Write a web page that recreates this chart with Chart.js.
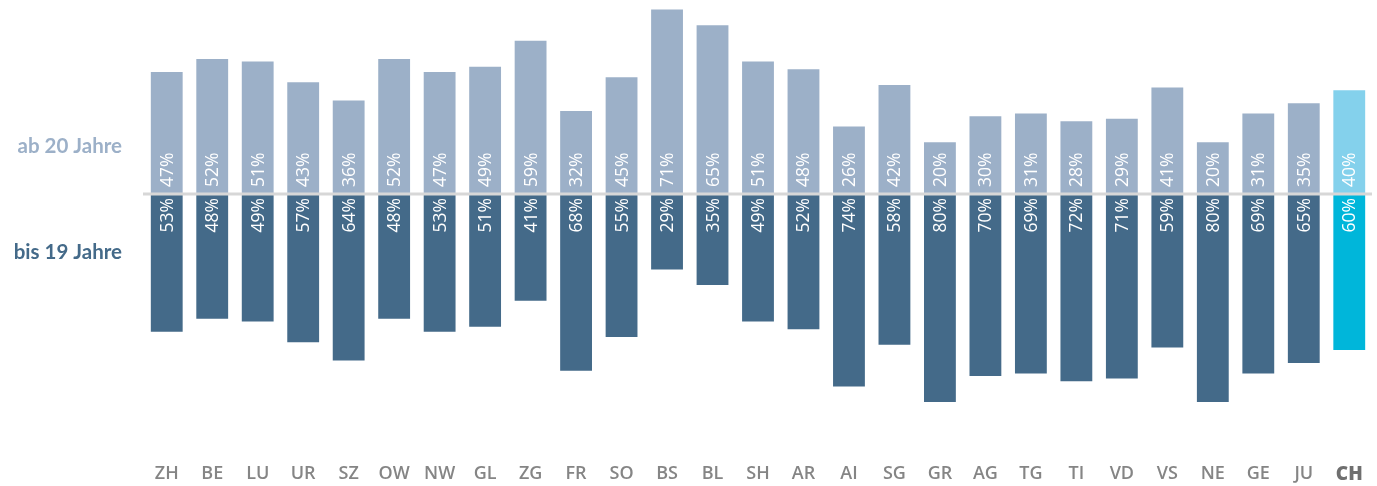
<!DOCTYPE html>
<html>
<head>
<meta charset="utf-8">
<script src="https://cdn.jsdelivr.net/npm/chart.js@4"></script>
<style>
  body { margin: 0; background: #fff; }
  #wrap { width: 1377px; height: 486px; position: relative; }
</style>
</head>
<body>
<div id="wrap"><canvas id="chart"></canvas></div>
<script>
// Kantone
var kantone = ['ZH','BE','LU','UR','SZ','OW','NW','GL','ZG','FR','SO','BS','BL','SH','AR','AI','SG','GR','AG','TG','TI','VD','VS','NE','GE','JU','CH'];
// Anteil ab 20 Jahre (oben)
var ab20 = [47,52,51,43,36,52,47,49,59,32,45,71,65,51,48,26,42,20,30,31,28,29,41,20,31,35,40];
// Anteil bis 19 Jahre (unten)
var bis19 = [53,48,49,57,64,48,53,51,41,68,55,29,35,49,52,74,58,80,70,69,72,71,59,80,69,65,60];
var gruppen = ['ab 20 Jahre', 'bis 19 Jahre'];

var isCH = function(i) { return kantone[i] === 'CH'; };

var oberFarben = kantone.map(function(k, i) { return isCH(i) ? '#84d1ec' : '#9cb0c8'; });
var unterFarben = kantone.map(function(k, i) { return isCH(i) ? '#00b6da' : '#446a89'; });

// keine automatische Randabstände der Achsen
function ohnePadding(scale) {
    scale.paddingTop = 0;
    scale.paddingBottom = 0;
    scale.paddingLeft = 0;
    scale.paddingRight = 0;
}

// Prozentwerte in den Balken + Nulllinie
var labelPlugin = {
    id: 'balkenLabels',
    afterDatasetsDraw: function(chart) {
        var ctx = chart.ctx;
        var y0 = chart.scales.y.getPixelForValue(0);
        ctx.save();
        ctx.strokeStyle = '#d7d7d7';
        ctx.lineWidth = 3;
        ctx.beginPath();
        ctx.moveTo(chart.chartArea.left - 1, y0);
        ctx.lineTo(chart.chartArea.right, y0);
        ctx.stroke();

        ctx.fillStyle = '#ffffff';
        ctx.font = '17.5px "Open Sans", sans-serif';
        ctx.textBaseline = 'middle';
        chart.data.datasets.forEach(function(ds, di) {
            chart.getDatasetMeta(di).data.forEach(function(bar, i) {
                var txt = Math.abs(ds.data[i]) + '%';
                ctx.save();
                ctx.translate(bar.x, di === 0 ? y0 - 7 : y0 + 4);
                ctx.rotate(-Math.PI / 2);
                ctx.textAlign = di === 0 ? 'left' : 'right';
                ctx.fillText(txt, 0, 1);
                ctx.restore();
            });
        });
        ctx.restore();
    }
};

new Chart(document.getElementById('chart'), {
    type: 'bar',
    data: {
        labels: kantone,
        datasets: [{
            label: gruppen[0],
            data: ab20,
            backgroundColor: oberFarben,
            barPercentage: 0.7,
            categoryPercentage: 1
        }, {
            label: gruppen[1],
            data: bis19.map(function(v) { return -v; }),
            backgroundColor: unterFarben,
            barPercentage: 0.7,
            categoryPercentage: 1
        }]
    },
    options: {
        responsive: true,
        maintainAspectRatio: false,
        animation: false,
        layout: { padding: { top: 7, right: 5, bottom: 0, left: 0 } },
        plugins: {
            legend: { display: false },
            tooltip: { enabled: false }
        },
        scales: {
            x: {
                stacked: true,
                grid: { display: false },
                border: { display: false },
                afterFit: function(scale) { scale.height = 58; ohnePadding(scale); },
                ticks: {
                    padding: 27,
                    maxRotation: 0,
                    autoSkip: false,
                    color: function(c) { return c.index === kantone.length - 1 ? '#6f6f6f' : '#858585'; },
                    font: function(c) {
                        return c.index === kantone.length - 1
                            ? { family: '"Open Sans", sans-serif', size: 19, weight: '800' }
                            : { family: '"Open Sans", sans-serif', size: 18, weight: '600' };
                    }
                }
            },
            y: {
                stacked: true,
                min: -90,
                max: 72,
                border: { display: false },
                grid: { display: false },
                afterFit: function(scale) { scale.width = 144; ohnePadding(scale); },
                afterBuildTicks: function(scale) {
                    scale.ticks = [{ value: -22.3 }, { value: 18.5 }];
                },
                ticks: {
                    padding: 14,
                    callback: function(v) { return v > 0 ? gruppen[0] : gruppen[1]; },
                    color: function(c) { return c.tick.value > 0 ? '#9cb0c8' : '#446a89'; },
                    font: { family: 'Lato, sans-serif', size: 20.5, weight: 'bold' }
                }
            }
        }
    },
    plugins: [labelPlugin]
});
</script>
</body>
</html>
